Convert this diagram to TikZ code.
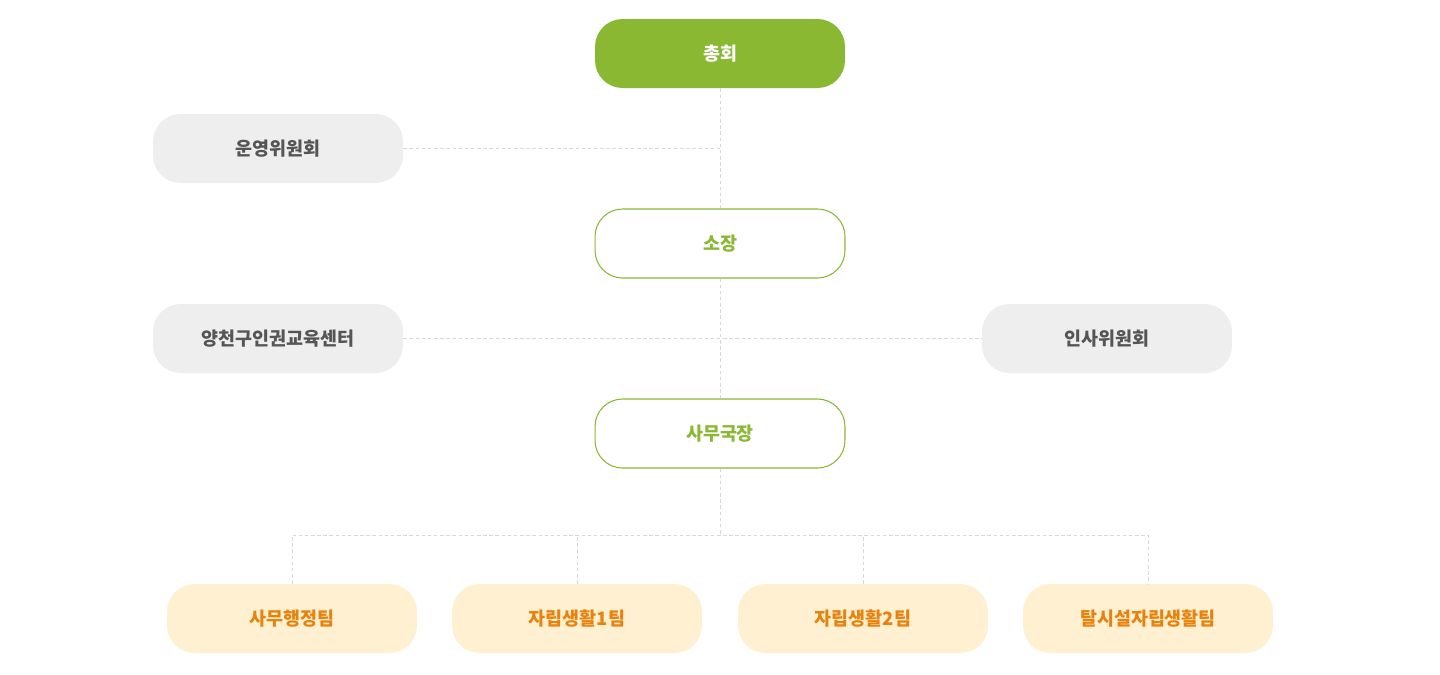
\documentclass[tikz,border=0pt]{standalone}
\usepackage{fontspec}
\setmainfont{Noto Sans CJK KR}
\usetikzlibrary{positioning,calc}
\definecolor{topgreen}{HTML}{8AB833}
\definecolor{boxgray}{HTML}{EEEEEE}
\definecolor{txtgray}{HTML}{555555}
\definecolor{teamfill}{HTML}{FFF0D2}
\definecolor{teamtxt}{HTML}{E8820C}
\definecolor{linegray}{HTML}{D8D8D8}

\begin{document}
\begin{tikzpicture}[x=0.02cm, y=-0.02cm,
    every node/.style={rounded corners=5.5mm, align=center, minimum width=50mm, minimum height=13.8mm, font=\fontsize{10.5pt}{12pt}\selectfont\bfseries},
    topbox/.style={fill=topgreen, text=white},
    sidebox/.style={fill=boxgray, text=txtgray},
    headbox/.style={draw=topgreen, fill=white, text=topgreen, line width=0.6pt},
    teambox/.style={fill=teamfill, text=teamtxt},
    link/.style={draw=linegray, dashed, dash pattern=on 2pt off 1.5pt, line width=0.5pt}
]
\useasboundingbox (0,0) rectangle (1440,674);
\node[topbox] (gen) at (720,53.5) {총회};
\node[sidebox] (ops) at (278,148.5) {운영위원회};
\node[headbox] (dir) at (720,243.5) {소장};
\node[sidebox] (edu) at (278,338.5) {양천구인권교육센터};
\node[sidebox] (hr) at (1107,338.5) {인사위원회};
\node[headbox] (sec) at (720,433.5) {사무국장};
\node[teambox] (t1) at (292,618.5) {사무행정팀};
\node[teambox] (t2) at (577,618.5) {자립생활1팀};
\node[teambox] (t3) at (863,618.5) {자립생활2팀};
\node[teambox] (t4) at (1148,618.5) {탈시설자립생활팀};

% links
\coordinate (split) at (720,535);
\draw[link] (gen) -- (dir);
\draw[link] (ops.east) -- (ops.east -| gen);
\draw[link] (dir) -- (sec);
\draw[link] (edu) -- (hr);
\draw[link] (sec) -- (split);
\draw[link] (t1.north) |- (split) -| (t4.north);
\draw[link] (t2.north) -- (t2.north |- split);
\draw[link] (t3.north) -- (t3.north |- split);
\end{tikzpicture}
\end{document}
